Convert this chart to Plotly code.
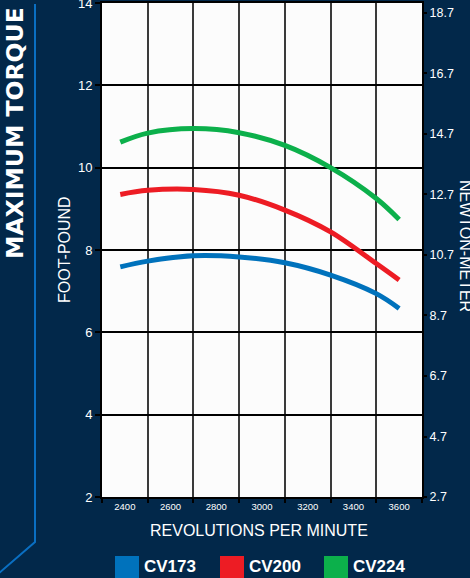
import plotly.graph_objects as go

# datos
rpm = [2380, 2500, 2700, 2900, 3100, 3300, 3500, 3600]
cv173 = [7.59, 7.73, 7.86, 7.83, 7.69, 7.39, 6.94, 6.58]
cv200 = [9.35, 9.45, 9.47, 9.33, 8.97, 8.44, 7.67, 7.27]
cv224 = [10.62, 10.84, 10.95, 10.85, 10.54, 10.0, 9.25, 8.74]

modelos = ["CV173", "CV200", "CV224"]
colores = ["#0072bc", "#ed1c24", "#0cb04b"]

rpm_ticks = [2400, 2600, 2800, 3000, 3200, 3400, 3600]
rpm_bordes = [2300, 2500, 2700, 2900, 3100, 3300, 3500, 3700]
ftlb_ticks = [2, 4, 6, 8, 10, 12, 14]
nm_ticks = [2.7, 4.7, 6.7, 8.7, 10.7, 12.7, 14.7, 16.7, 18.7]

NAVY = "#02284a"
W, H = 470, 578
L, R, T, B = 102, 422, 3, 497


def px_x(x):
    return (x - L) / (R - L)


def px_y(y):
    return (B - y) / (B - T)


fig = go.Figure()
for nombre, serie, color in zip(modelos, [cv173, cv200, cv224], colores):
    fig.add_trace(go.Scatter(x=rpm, y=serie, name=nombre, mode="lines",
                             line=dict(color=color, width=5, shape="spline", smoothing=1.0),
                             showlegend=False))

# eje derecho (newton-metro), solo para las marcas
fig.add_trace(go.Scatter(x=[rpm[0]], y=[nm_ticks[0]], yaxis="y2", mode="markers",
                         marker=dict(opacity=0), showlegend=False, hoverinfo="skip"))

fig.update_layout(
    width=W, height=H,
    paper_bgcolor=NAVY, plot_bgcolor="#fcfcfc",
    margin=dict(l=L, r=W - R, t=T, b=H - B, autoexpand=False),
    font=dict(family="Liberation Sans", color="white"),
    xaxis=dict(range=[2300, 3700], tickvals=rpm_ticks, ticks="", showgrid=False, automargin=False,
               zeroline=False, showline=True, linecolor="black", linewidth=2, mirror=True,
               tickfont=dict(size=9.5, color="white"),
               minor=dict(tickvals=rpm_bordes, showgrid=True, gridcolor="#3a3a3a", gridwidth=1.5,
                          ticks="outside", ticklen=4, tickcolor="black", tickwidth=1.5)),
    yaxis=dict(range=[2, 14], tickvals=ftlb_ticks, showgrid=True, gridcolor="black", gridwidth=2,
               zeroline=False, showline=True, linecolor="black", linewidth=2, mirror=True,
               automargin=False, ticklabeloverflow="allow",
               ticks="outside", ticklen=5, tickcolor="black", tickwidth=2,
               tickfont=dict(size=13, color="white")),
    yaxis2=dict(range=[2.7, 19.03], tickvals=nm_ticks, overlaying="y", side="right",
                showgrid=False, zeroline=False, showline=True, linecolor="black", linewidth=2,
                automargin=False, ticklabeloverflow="allow",
                ticks="outside", ticklen=3, tickcolor="black", tickwidth=2,
                tickfont=dict(size=12.5, color="white")),
)

anotaciones = [
    dict(text="<b>MAXIMUM TORQUE</b>", x=px_x(15), y=px_y(133), textangle=-90,
         font=dict(family="DejaVu Sans", size=23.5, color="white")),
    dict(text="FOOT-POUND", x=px_x(64), y=px_y(250), textangle=-90,
         font=dict(size=16, color="white")),
    dict(text="NEWTON-METER", x=px_x(466), y=px_y(246), textangle=90,
         font=dict(size=16, color="white")),
    dict(text="REVOLUTIONS PER MINUTE", x=px_x(259), y=px_y(530),
         font=dict(size=16, color="white")),
]
for a in anotaciones:
    fig.add_annotation(xref="paper", yref="paper", showarrow=False,
                       xanchor="center", yanchor="middle", **a)

# linea azul decorativa a la izquierda
fig.add_shape(type="path", xref="paper", yref="paper",
              path=f"M {px_x(35)} {px_y(4)} L {px_x(35)} {px_y(542)} L {px_x(-2)} {px_y(574)}",
              line=dict(color="#0a6fc2", width=2))

# leyenda
leyenda_x = [115, 220, 324]
for nombre, color, x0 in zip(modelos, colores, leyenda_x):
    fig.add_shape(type="rect", xref="paper", yref="paper",
                  x0=px_x(x0), x1=px_x(x0 + 24), y0=px_y(556), y1=px_y(580),
                  fillcolor=color, line=dict(width=0))
    fig.add_annotation(xref="paper", yref="paper", showarrow=False,
                       x=px_x(x0 + 27), y=px_y(566), xanchor="left", yanchor="middle",
                       text=f"<b>{nombre}</b>", font=dict(size=17, color="white"))

# quitar el margen del body para que la figura empiece en (0, 0)
fig.write_html("out.html", config={"displayModeBar": False},
               post_script="document.body.style.margin='0';")
